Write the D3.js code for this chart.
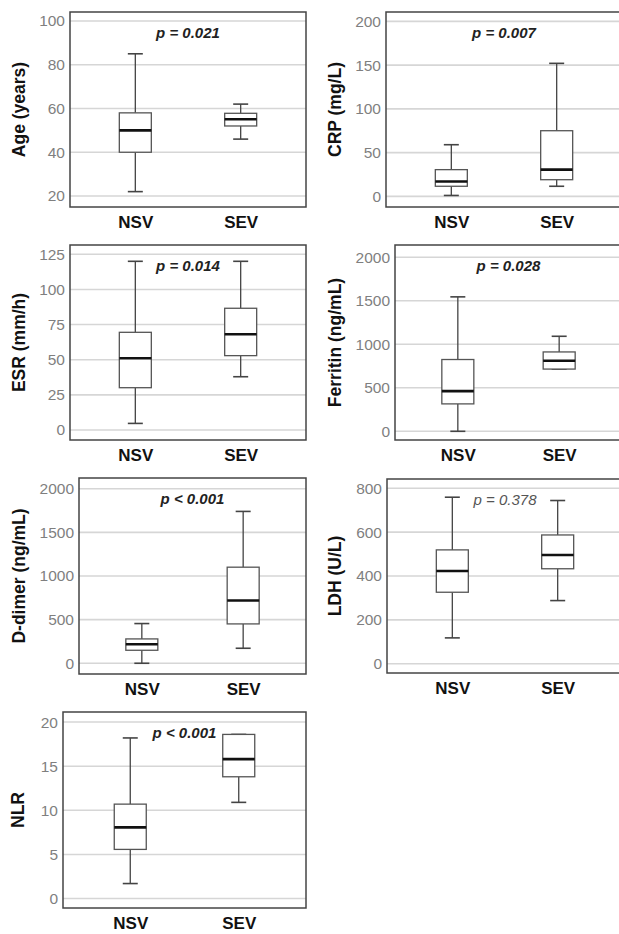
<!DOCTYPE html>
<html>
<head>
<meta charset="utf-8">
<script src="https://cdn.jsdelivr.net/npm/d3@7"></script>
<style>
  html, body { margin: 0; padding: 0; background: #fff; }
  svg { display: block; }
</style>
</head>
<body>
<svg id="chart" width="619" height="934"></svg>
<script>
// ---- data ----
const groups = ["NSV", "SEV"];
const yLabels = ["Age (years)", "CRP (mg/L)", "ESR (mm/h)", "Ferritin (ng/mL)", "D-dimer (ng/mL)", "LDH (U/L)", "NLR"];
const pTexts = ["p = 0.021", "p = 0.007", "p = 0.014", "p = 0.028", "p < 0.001", "p = 0.378", "p < 0.001"];
const pSignificant = [true, true, true, true, true, false, true];
const yTicks = [
  [20, 40, 60, 80, 100],
  [0, 50, 100, 150, 200],
  [0, 25, 50, 75, 100, 125],
  [0, 500, 1000, 1500, 2000],
  [0, 500, 1000, 1500, 2000],
  [0, 200, 400, 600, 800],
  [0, 5, 10, 15, 20]
];
const yDomains = [
  [14.97, 104.1],
  [-12.2, 210.7],
  [-7.1, 131.6],
  [-100, 2141],
  [-123, 2123],
  [-42, 842],
  [-1.07, 21.14]
];
// [min, q1, median, q3, max]
const nsvStats = [
  [22, 40, 50, 58, 85],
  [1, 11.5, 17, 30.5, 59],
  [4.7, 30.1, 51, 69.5, 120],
  [0, 315, 462, 825, 1545],
  [0, 149, 218, 279, 455],
  [118, 326, 423, 519, 759],
  [1.7, 5.57, 8.07, 10.7, 18.2]
];
const sevStats = [
  [46, 52, 55.1, 57.8, 62],
  [11.5, 19, 30.5, 75, 152],
  [37.9, 52.9, 68.1, 86.6, 120],
  [715, 715, 810, 912, 1092],
  [172, 451, 719, 1101, 1740],
  [288, 433, 496, 587, 744],
  [10.9, 13.8, 15.8, 18.6, 18.6]
];

// ---- layout (frame boxes) ----
const frames = [
  {x0: 70, x1: 306, y0: 12, y1: 207, labelX: 19},
  {x0: 386, x1: 622, y0: 12, y1: 207, labelX: 335},
  {x0: 70, x1: 306, y0: 245, y1: 440, labelX: 19},
  {x0: 395, x1: 622, y0: 245, y1: 440, labelX: 335},
  {x0: 79, x1: 306, y0: 478, y1: 674, labelX: 19},
  {x0: 387, x1: 623, y0: 479, y1: 673, labelX: 335},
  {x0: 63, x1: 306, y0: 712, y1: 908, labelX: 18}
];

const svg = d3.select("#chart");
const FONT = "Liberation Sans, Arial, sans-serif";
const boxW = 32, capW = 15;

yLabels.forEach((label, i) => {
  const f = frames[i];
  const g = svg.append("g");
  const y = d3.scaleLinear().domain(yDomains[i]).range([f.y1, f.y0]);
  const x = d3.scalePoint().domain(groups).range([f.x0, f.x1]).padding(0.62);

  // gridlines
  g.selectAll("line.grid").data(yTicks[i]).join("line")
    .attr("class", "grid")
    .attr("x1", f.x0).attr("x2", f.x1)
    .attr("y1", d => y(d)).attr("y2", d => y(d))
    .attr("stroke", "#d6d6d6").attr("stroke-width", 1.6);

  // y axis tick labels via d3 axis
  const axis = d3.axisLeft(y).tickValues(yTicks[i]).tickFormat(d3.format("d")).tickSize(0).tickPadding(5);
  const ag = g.append("g").attr("transform", `translate(${f.x0},0)`).call(axis);
  ag.select(".domain").remove();
  ag.selectAll("text").attr("fill", "#7f7f7f").attr("font-size", 15.5).attr("font-family", FONT);

  // x axis labels
  const xa = d3.axisBottom(x).tickSize(0).tickPadding(9);
  const xg = g.append("g").attr("transform", `translate(0,${f.y1})`).call(xa);
  xg.select(".domain").remove();
  xg.selectAll("text").attr("fill", "#111").attr("font-size", 17)
    .attr("font-weight", "bold").attr("font-family", FONT);

  // y label
  g.append("text")
    .attr("transform", `translate(${f.labelX},${(f.y0 + f.y1) / 2}) rotate(-90)`)
    .attr("text-anchor", "middle").attr("dominant-baseline", "central")
    .attr("font-size", 17.5).attr("font-weight", "bold").attr("font-family", FONT)
    .attr("fill", "#111").text(label);

  // boxes
  const stats = [nsvStats[i], sevStats[i]];
  stats.forEach((s, k) => {
    const cx = x(groups[k]);
    const [mn, q1, md, q3, mx] = s;
    const bg = g.append("g");
    bg.append("line").attr("x1", cx).attr("x2", cx).attr("y1", y(q3)).attr("y2", y(mx))
      .attr("stroke", "#444").attr("stroke-width", 1.3);
    bg.append("line").attr("x1", cx).attr("x2", cx).attr("y1", y(q1)).attr("y2", y(mn))
      .attr("stroke", "#444").attr("stroke-width", 1.3);
    [mn, mx].forEach(v => {
      bg.append("line").attr("x1", cx - capW / 2).attr("x2", cx + capW / 2)
        .attr("y1", y(v)).attr("y2", y(v))
        .attr("stroke", "#444").attr("stroke-width", 1.6);
    });
    bg.append("rect").attr("x", cx - boxW / 2).attr("width", boxW)
      .attr("y", y(q3)).attr("height", Math.max(0.5, y(q1) - y(q3)))
      .attr("fill", "#fff").attr("stroke", "#555").attr("stroke-width", 1.3);
    bg.append("line").attr("x1", cx - boxW / 2).attr("x2", cx + boxW / 2)
      .attr("y1", y(md)).attr("y2", y(md))
      .attr("stroke", "#111").attr("stroke-width", 2.6);
  });

  // p value, centred between the two groups
  g.append("text")
    .attr("x", (x(groups[0]) + x(groups[1])) / 2)
    .attr("y", f.y0 + 26)
    .attr("text-anchor", "middle")
    .attr("font-size", 15).attr("font-style", "italic")
    .attr("font-weight", pSignificant[i] ? "bold" : "normal")
    .attr("fill", pSignificant[i] ? "#222" : "#555")
    .attr("font-family", FONT)
    .text(pTexts[i]);

  // frame
  g.append("rect").attr("x", f.x0).attr("y", f.y0)
    .attr("width", f.x1 - f.x0).attr("height", f.y1 - f.y0)
    .attr("fill", "none").attr("stroke", "#444").attr("stroke-width", 1.5);
});
</script>
</body>
</html>
